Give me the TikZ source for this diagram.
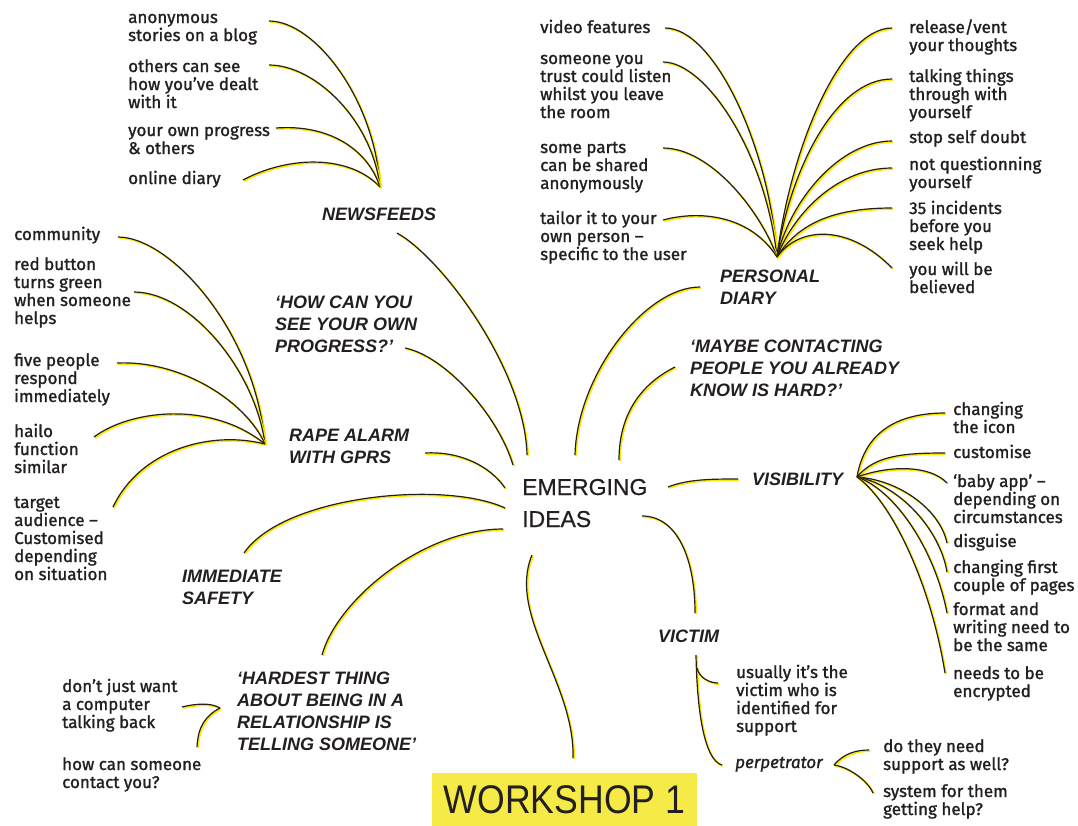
\documentclass[tikz,border=0pt]{standalone}
\usepackage{fontspec}
\newfontfamily\leaffam[FakeBold=1.3]{Fira Sans}
\newfontfamily\topicfam{Liberation Sans}
\newfontfamily\centrefam[FakeBold=0.6]{Liberation Sans}
\newfontfamily\wsfam[FakeStretch=0.89]{Liberation Sans}
\definecolor{ink}{RGB}{35,31,32}
\definecolor{glow}{RGB}{255,232,0}
\definecolor{wsyellow}{RGB}{246,235,70}
\tikzset{
    leaf/.style={inner sep=0pt, anchor=base west, align=left, text=ink,
        font=\leaffam\fontsize{17}{18}\selectfont},
    topic/.style={inner sep=0pt, anchor=base west, align=left, text=ink,
        font=\topicfam\bfseries\itshape\fontsize{18}{22}\selectfont},
    centre/.style={inner sep=0pt, anchor=base west, align=left, text=ink,
        font=\centrefam\fontsize{23}{32}\selectfont},
    wsbox/.style={fill=wsyellow, inner sep=0pt, minimum width=265pt, minimum height=53pt,
        text=ink, font=\wsfam\fontsize{40}{40}\selectfont},
    branch/.style={draw=ink, line width=1.2pt,
        preaction={draw=glow, line width=1.8pt, transform canvas={shift={(1.1pt,-1.1pt)}}}},
}
\begin{document}
\begin{tikzpicture}[x=1pt,y=-1pt]
    \useasboundingbox (0,0) rectangle (1078,825);

    \node[centre] (ideas) at (522,527) {EMERGING\\IDEAS};
    \node[wsbox] (workshop) at (564.5,799.5) {WORKSHOP 1};

    \node[topic] (newsfeeds) at (322,220) {NEWSFEEDS};
    \node[topic] (progress) at (275,352) {‘HOW CAN YOU\\SEE YOUR OWN\\PROGRESS?’};
    \node[topic] (alarm) at (289,463) {RAPE ALARM\\WITH GPRS};
    \node[topic] (safety) at (182,604) {IMMEDIATE\\SAFETY};
    \node[topic] (hardest) at (237,750) {‘HARDEST THING\\ABOUT BEING IN A\\RELATIONSHIP IS\\TELLING SOMEONE’};
    \node[topic] (diary) at (720,304) {PERSONAL\\DIARY};
    \node[topic] (maybe) at (690,396) {‘MAYBE CONTACTING\\PEOPLE YOU ALREADY\\KNOW IS HARD?’};
    \node[topic] (visibility) at (752,485) {VISIBILITY};
    \node[topic] (victim) at (658,642) {VICTIM};

    \node[leaf] (anon) at (128,41) {anonymous\\stories on a blog};
    \node[leaf] (others) at (128,108) {others can see\\how you’ve dealt\\with it};
    \node[leaf] (ownprog) at (128,154) {your own progress\\\& others};
    \node[leaf] (online) at (128,184) {online diary};

    \node[leaf] (community) at (14,240) {community};
    \node[leaf] (redbtn) at (14,324) {red button\\turns green\\when someone\\helps};
    \node[leaf] (five) at (14,402) {five people\\respond\\immediately};
    \node[leaf] (hailo) at (14,473) {hailo\\function\\similar};
    \node[leaf] (target) at (14,580) {target\\audience –\\Customised\\depending\\on situation};

    \node[leaf] (computer) at (62,728) {don’t just want\\a computer\\talking back};
    \node[leaf] (contact) at (62,788) {how can someone\\contact you?};

    \node[leaf] (video) at (540,33) {video features};
    \node[leaf] (trust) at (540,118) {someone you\\trust could listen\\whilst you leave\\the room};
    \node[leaf] (shared) at (540,189) {some parts\\can be shared\\anonymously};
    \node[leaf] (tailor) at (540,260) {tailor it to your\\own person –\\specific to the user};

    \node[leaf] (vent) at (909,51) {release/vent\\your thoughts};
    \node[leaf] (talking) at (909,118) {talking things\\through with\\yourself};
    \node[leaf] (doubt) at (909,143) {stop self doubt};
    \node[leaf] (quest) at (909,188) {not questionning\\yourself};
    \node[leaf] (incidents) at (909,250) {35 incidents\\before you\\seek help};
    \node[leaf] (believed) at (909,293) {you will be\\believed};

    \node[leaf] (icon) at (953,433) {changing\\the icon};
    \node[leaf] (customise) at (953,458) {customise};
    \node[leaf] (baby) at (953,523) {‘baby app’ –\\depending on\\circumstances};
    \node[leaf] (disguise) at (953,547) {disguise};
    \node[leaf] (pages) at (953,591) {changing first\\couple of pages};
    \node[leaf] (format) at (953,651) {format and\\writing need to\\be the same};
    \node[leaf] (encrypt) at (953,697) {needs to be\\encrypted};

    \node[leaf] (usually) at (736,732) {usually it’s the\\victim who is\\identified for\\support};
    \node[leaf, font=\leaffam\itshape\fontsize{17}{18}\selectfont] (perp) at (735,768) {perpetrator};
    \node[leaf] (need) at (883,770) {do they need\\support as well?};
    \node[leaf] (system) at (883,815) {system for them\\getting help?};

    \coordinate (nfHub) at (380,187);
    \coordinate (raHub) at (265,444);
    \coordinate (pdHub) at (777,257);
    \coordinate (visHub) at (857,477);
    \coordinate (perpHub) at (834,765);
    \coordinate (hookHub) at (220,708);

    \coordinate (anonEnd) at (269,21);
    \coordinate (othersEnd) at (269,65);
    \coordinate (ownprogEnd) at (276,128);
    \coordinate (onlineEnd) at (243,180);
    \coordinate (communityEnd) at (118,237);
    \coordinate (redbtnEnd) at (134,292);
    \coordinate (fiveEnd) at (117,363);
    \coordinate (hailoEnd) at (94,437);
    \coordinate (targetEnd) at (113,507);
    \coordinate (videoEnd) at (665,28);
    \coordinate (trustEnd) at (663,62);
    \coordinate (sharedEnd) at (663,148);
    \coordinate (tailorEnd) at (663,220);
    \coordinate (ventEnd) at (892,28);
    \coordinate (talkingEnd) at (892,79);
    \coordinate (doubtEnd) at (892,141);
    \coordinate (questEnd) at (892,168);
    \coordinate (incidentsEnd) at (892,208);
    \coordinate (believedEnd) at (892,268);
    \coordinate (iconEnd) at (945,413);
    \coordinate (customiseEnd) at (945,453);
    \coordinate (babyEnd) at (947,483);
    \coordinate (disguiseEnd) at (947,543);
    \coordinate (pagesEnd) at (947,572);
    \coordinate (formatEnd) at (947,613);
    \coordinate (encryptEnd) at (945,673);
    \coordinate (victimFoot) at (696,655);
    \coordinate (usuallyRoot) at (697,668);
    \coordinate (usuallyEnd) at (718,683);
    \coordinate (perpEnd) at (722,765);
    \coordinate (needEnd) at (869,750);
    \coordinate (systemEnd) at (873,793);
    \coordinate (computerEnd) at (182,707);
    \coordinate (contactEnd) at (197,747);

    \coordinate (nfFoot) at (397,233);
    \coordinate (progFoot) at (405,348);
    \coordinate (alarmFoot) at (425,453);
    \coordinate (safetyFoot) at (244,553);
    \coordinate (hardTop) at (322,655);
    \coordinate (wsTop) at (573,758);
    \coordinate (diaryFoot) at (700,287);
    \coordinate (maybeFoot) at (675,367);
    \coordinate (visFoot) at (738,479);
    \coordinate (victimHead) at (695,613);
    \coordinate (iNews) at (527,455);
    \coordinate (iProg) at (513,465);
    \coordinate (iAlarm) at (505,488);
    \coordinate (iSafety) at (505,508);
    \coordinate (iHard) at (503,529);
    \coordinate (iDown) at (532,555);
    \coordinate (iDiary) at (575,455);
    \coordinate (iMaybe) at (619,460);
    \coordinate (iVis) at (668,487);
    \coordinate (iVictim) at (642,516);

    \draw[branch] (iNews) .. controls +(-2,-85) and +(45,25) .. (nfFoot);
    \draw[branch] (iProg) .. controls +(-15,-50) and +(40,8) .. (progFoot);
    \draw[branch] (iAlarm) .. controls +(-15,-22) and +(35,-2) .. (alarmFoot);
    \draw[branch] (iSafety) .. controls +(-60,-28) and +(40,-58) .. (safetyFoot);
    \draw[branch] (iHard) .. controls +(-80,0) and +(15,-55) .. (hardTop);
    \draw[branch] (iDown) .. controls +(-25,60) and +(2,-75) .. (wsTop);
    \draw[branch] (iDiary) .. controls +(2,-80) and +(-55,0) .. (diaryFoot);
    \draw[branch] (iMaybe) .. controls +(0,-50) and +(-30,15) .. (maybeFoot);
    \draw[branch] (iVis) .. controls +(20,-8) and +(-25,0) .. (visFoot);
    \draw[branch] (iVictim) .. controls +(35,0) and +(0,-55) .. (victimHead);

    \draw[branch] (nfHub) .. controls +(-5,-87) and +(46,0) .. (anonEnd);
    \draw[branch] (nfHub) .. controls +(-8,-67) and +(46,0) .. (othersEnd);
    \draw[branch] (nfHub) .. controls +(-12,-37) and +(54,-4) .. (ownprogEnd);
    \draw[branch] (nfHub) .. controls +(-30,-32) and +(47,-25) .. (onlineEnd);

    \draw[branch] (raHub) .. controls +(-10,-114) and +(52,0) .. (communityEnd);
    \draw[branch] (raHub) .. controls +(-10,-74) and +(56,0) .. (redbtnEnd);
    \draw[branch] (raHub) .. controls +(-20,-44) and +(63,-3) .. (fiveEnd);
    \draw[branch] (raHub) .. controls +(-55,-44) and +(36,-27) .. (hailoEnd);
    \draw[branch] (raHub) .. controls +(-55,-14) and +(27,-57) .. (targetEnd);

    \draw[branch] (pdHub) .. controls +(-7,-107) and +(50,0) .. (videoEnd);
    \draw[branch] (pdHub) .. controls +(-12,-107) and +(42,0) .. (trustEnd);
    \draw[branch] (pdHub) .. controls +(-17,-47) and +(47,0) .. (sharedEnd);
    \draw[branch] (pdHub) .. controls +(-27,-42) and +(37,-10) .. (tailorEnd);
    \draw[branch] (pdHub) .. controls +(13,-107) and +(-52,0) .. (ventEnd);
    \draw[branch] (pdHub) .. controls +(13,-87) and +(-57,0) .. (talkingEnd);
    \draw[branch] (pdHub) .. controls +(13,-57) and +(-52,0) .. (doubtEnd);
    \draw[branch] (pdHub) .. controls +(18,-47) and +(-52,0) .. (questEnd);
    \draw[branch] (pdHub) .. controls +(23,-37) and +(-52,0) .. (incidentsEnd);
    \draw[branch] (pdHub) .. controls +(23,-32) and +(-42,-43) .. (believedEnd);

    \draw[branch] (visHub) .. controls +(8,-47) and +(-45,0) .. (iconEnd);
    \draw[branch] (visHub) .. controls +(18,-22) and +(-40,0) .. (customiseEnd);
    \draw[branch] (visHub) .. controls +(33,-12) and +(-17,-18) .. (babyEnd);
    \draw[branch] (visHub) .. controls +(43,3) and +(-7,-33) .. (disguiseEnd);
    \draw[branch] (visHub) .. controls +(43,8) and +(-7,-42) .. (pagesEnd);
    \draw[branch] (visHub) .. controls +(38,13) and +(-12,-63) .. (formatEnd);
    \draw[branch] (visHub) .. controls +(33,23) and +(-15,-93) .. (encryptEnd);

    \draw[branch] (victimFoot) .. controls +(1,55) and +(-18,-5) .. (perpEnd);
    \draw[branch] (usuallyRoot) .. controls +(2,10) and +(-8,0) .. (usuallyEnd);
    \draw[branch] (perpHub) .. controls +(10,-12) and +(-12,0) .. (needEnd);
    \draw[branch] (perpHub) .. controls +(15,2) and +(-5,-12) .. (systemEnd);
    \draw[branch] (hookHub) .. controls +(-10,-6) and +(12,-3) .. (computerEnd);
    \draw[branch] (hookHub) .. controls +(-15,8) and +(1,-20) .. (contactEnd);
\end{tikzpicture}
\end{document}
